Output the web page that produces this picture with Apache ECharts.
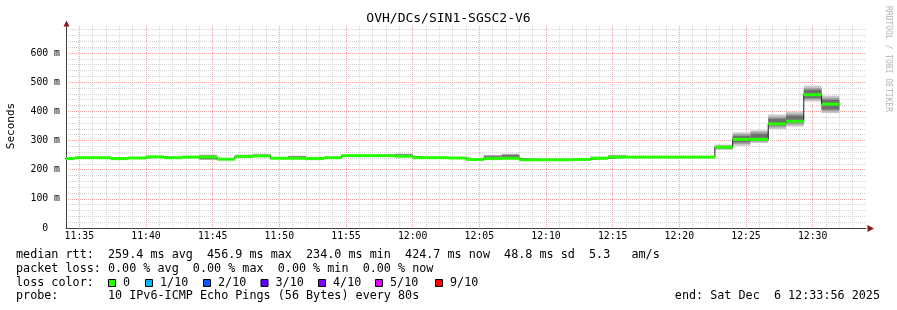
<!DOCTYPE html>
<html><head><meta charset="utf-8">
<script src="https://cdn.jsdelivr.net/npm/echarts@6/dist/echarts.min.js"></script>
<style>html,body{margin:0;padding:0;background:#fff}#c{width:897px;height:310px}</style>
</head><body><div id="c"></div>
<script>
// ---- data ----
const stepTimes = ['11:33:20','11:34:40','11:36:00','11:37:20','11:38:40','11:40:00','11:41:20','11:42:40','11:44:00','11:45:20','11:46:40','11:48:00','11:49:20','11:50:40','11:52:00','11:53:20','11:54:40','11:56:00','11:57:20','11:58:40','12:00:00','12:01:20','12:02:40','12:04:00','12:05:20','12:06:40','12:08:00','12:09:20','12:10:40','12:12:00','12:13:20','12:14:40','12:16:00','12:17:20','12:18:40','12:20:00','12:21:20','12:22:40','12:24:00','12:25:20','12:26:40','12:28:00','12:29:20','12:30:40','12:32:00'];
const medianMs = [238,241,241,238,240,244,241,243,243,236,245,247,239,239,238,241,248,248,248,246,241,241,240,235,238,239,234,234,234,235,239,243,243,243,243,243,243,277,304,304,357,366,456.9,424.7];
const smokeOuterLo = [null,null,null,null,null,null,null,null,234,null,243,245,null,237,236,null,null,null,246,244,null,null,null,233,236,237,232,null,null,null,237,241,null,null,null,null,null,268,282,291,339,348,434,394];
const smokeOuterHi = [null,null,null,null,null,null,null,null,252,null,252,255,null,248,244,null,null,null,253,255,null,null,null,239,251,255,238,null,null,null,245,251,null,null,null,null,null,286,328,335,389,399,488,454];
const smokeMidLo   = [null,null,null,null,null,null,null,null,235,null,244,246,null,238,237,null,null,null,247,245,null,null,null,234,237,238,233,null,null,null,238,242,null,null,null,null,null,271,288,296,345,354,440,400];
const smokeMidHi   = [null,null,null,null,null,null,null,null,250,null,250,252,null,247,242,null,null,null,252,254,null,null,null,238,249,253,237,null,null,null,243,249,null,null,null,null,null,282,322,330,381,391,480,446];
const smokeInLo    = [null,null,null,null,null,null,null,null,236,null,244,246,null,238,237,null,null,null,247,245,null,null,null,234,237,238,233,null,null,null,238,242,null,null,null,null,null,273,294,300,351,360,445,406];
const smokeInHi    = [null,null,null,null,null,null,null,null,246,null,248,250,null,245,241,null,null,null,251,252,null,null,null,237,246,250,236,null,null,null,242,247,null,null,null,null,null,280,316,323,375,385,474,440];
const xRange = ['11:34:00','12:34:00'];
const xTickLabels = ['11:35','11:40','11:45','11:50','11:55','12:00','12:05','12:10','12:15','12:20','12:25','12:30'];
const yTickValues = [0,100,200,300,400,500,600];
const yMax = 692.6;
const title = 'OVH/DCs/SIN1-SGSC2-V6';
const legendLines = [
  'median rtt:  259.4 ms avg  456.9 ms max  234.0 ms min  424.7 ms now  48.8 ms sd  5.3   am/s',
  'packet loss: 0.00 % avg  0.00 % max  0.00 % min  0.00 % now',
  'loss color:',
  'probe:       10 IPv6-ICMP Echo Pings (56 Bytes) every 80s'
];
const lossLabels = ['0','1/10','2/10','3/10','4/10','5/10','9/10'];
const lossColors = ['#26ff00','#00b8ff','#0059ff','#5e00ff','#7e00ff','#dd00ff','#ff0000'];
const endText = 'end: Sat Dec  6 12:33:56 2025';

// ---- helpers ----
function toSec(s){const p=s.split(':').map(Number);return p[0]*3600+p[1]*60+(p[2]||0);}
function fmt(sec){const h=Math.floor(sec/3600),m=Math.floor((sec%3600)/60);return String(h).padStart(2,'0')+':'+String(m).padStart(2,'0');}
const tSteps = stepTimes.map(toSec);
const xMin = toSec(xRange[0]), xMax = toSec(xRange[1]);

const smokeData = [];
const greenData = [];
const blackData = [];
for (let i=0;i<medianMs.length;i++){
  const t0=tSteps[i], t1=tSteps[i+1], v=medianMs[i];
  greenData.push([t0,t1,v]);
  blackData.push([t0,v]); blackData.push([t1,v]);
  if (smokeOuterLo[i]!=null) smokeData.push([t0,t1,smokeOuterLo[i],smokeOuterHi[i],smokeMidLo[i],smokeMidHi[i],smokeInLo[i],smokeInHi[i]]);
}

const FONT='"DejaVu Sans Mono", monospace';
const MINOR='#d2d2d2', MAJOR='#f5a0a0';

const chart = echarts.init(document.getElementById('c'), null, {renderer:'canvas'});
const graphics = [];
graphics.push({type:'text', x:448.5, y:19, style:{text:title, font:'13px '+FONT, fill:'#000', align:'center', verticalAlign:'middle'}});
graphics.push({type:'text', x:11, y:126, rotation:Math.PI/2, style:{text:'Seconds', font:'11px '+FONT, fill:'#000', align:'center', verticalAlign:'middle'}});
graphics.push({type:'text', x:888, y:59, rotation:-Math.PI/2, style:{text:'RRDTOOL / TOBI OETIKER', font:'8px '+FONT, fill:'#b4b4b4', align:'center', verticalAlign:'middle'}});
graphics.push({type:'polygon', shape:{points:[[63.5,26.5],[69.5,26.5],[66.5,20.5]]}, style:{fill:'#8b1a1a'}, z:100});
graphics.push({type:'polygon', shape:{points:[[867.5,225],[867.5,232],[874,228.5]]}, style:{fill:'#8b1a1a'}, z:100});
const legendY=[255,268.5,282.5,296];
legendLines.forEach((s,i)=>graphics.push({type:'text', x:16, y:legendY[i], style:{text:s, font:'11.75px '+FONT, fill:'#000', verticalAlign:'middle'}}));
const boxX=[108.5,145.5,203.5,261,318.5,375.5,435.5];
lossLabels.forEach((lab,i)=>{
  graphics.push({type:'rect', shape:{x:boxX[i], y:279.5, width:7, height:7}, style:{fill:lossColors[i], stroke:'#000', lineWidth:1}});
  graphics.push({type:'text', x:boxX[i]+14.5, y:legendY[2], style:{text:lab, font:'11.75px '+FONT, fill:'#000', verticalAlign:'middle'}});
});
graphics.push({type:'text', x:880, y:legendY[3], style:{text:endText, font:'11.75px '+FONT, fill:'#000', align:'right', verticalAlign:'middle'}});

chart.setOption({
  animation:false,
  backgroundColor:'#ffffff',
  grid:{left:66, right:31, top:26, bottom:82, containLabel:false},
  xAxis:{
    type:'value', min:xMin, max:xMax, interval:60,
    axisLine:{show:true, onZero:false, lineStyle:{color:'#404040', width:1}},
    axisTick:{show:false},
    axisLabel:{margin:3, color:'#000', fontFamily:'DejaVu Sans Mono', fontSize:9.8, showMinLabel:true, showMaxLabel:true, hideOverlap:false,
      formatter:v=>{const s=fmt(v);return (v%300===0 && xTickLabels.includes(s))?s:'';}},
    splitLine:{show:true, showMaxLine:false, lineStyle:{color:[MINOR,MAJOR,MINOR,MINOR,MINOR], width:1, type:[1,1]}}
  },
  yAxis:{
    type:'value', min:0, max:yMax, interval:20,
    axisLine:{show:true, lineStyle:{color:'#404040', width:1}},
    axisTick:{show:false},
    axisLabel:{margin:6, color:'#000', fontFamily:'DejaVu Sans Mono', fontSize:9.8, showMaxLabel:false,
      formatter:v=>yTickValues.includes(v)?(v===0?'0  ':v+' m'):''},
    splitLine:{show:true, showMaxLine:false, lineStyle:{color:[MAJOR,MINOR,MINOR,MINOR,MINOR], width:1, type:[1,1]}}
  },
  graphic:graphics,
  series:[
    {type:'custom', name:'smoke', z:3, clip:true, data:smokeData, encode:{x:[0,1], y:[2,3,4,5,6,7]},
      renderItem:(params,api)=>{
        const t0=api.value(0), t1=api.value(1);
        const bands=[[2,3,'#c8c8c8'],[4,5,'#a2a2a2'],[6,7,'#6e6e6e']];
        const ch=[];
        bands.forEach(([a,b,col])=>{
          const p0=api.coord([t0,api.value(b)]), p1=api.coord([t1,api.value(a)]);
          ch.push({type:'rect', shape:{x:p0[0], y:p0[1], width:p1[0]-p0[0], height:p1[1]-p0[1]}, style:{fill:col}});
        });
        return {type:'group', children:ch};
      }},
    {type:'line', name:'median', z:4, clip:true, symbol:'none', data:blackData, lineStyle:{color:'#1e1e1e', width:1}},
    {type:'custom', name:'median loss 0', z:5, clip:true, data:greenData, encode:{x:[0,1], y:2},
      renderItem:(params,api)=>{
        const t0=Math.max(api.value(0),xMin), t1=api.value(1), v=api.value(2);
        const p0=api.coord([t0,v]), p1=api.coord([t1,v]);
        return {type:'line', shape:{x1:p0[0], y1:p0[1], x2:p1[0], y2:p1[1]}, style:{stroke:lossColors[0], lineWidth:3}};
      }}
  ]
});
</script></body></html>
